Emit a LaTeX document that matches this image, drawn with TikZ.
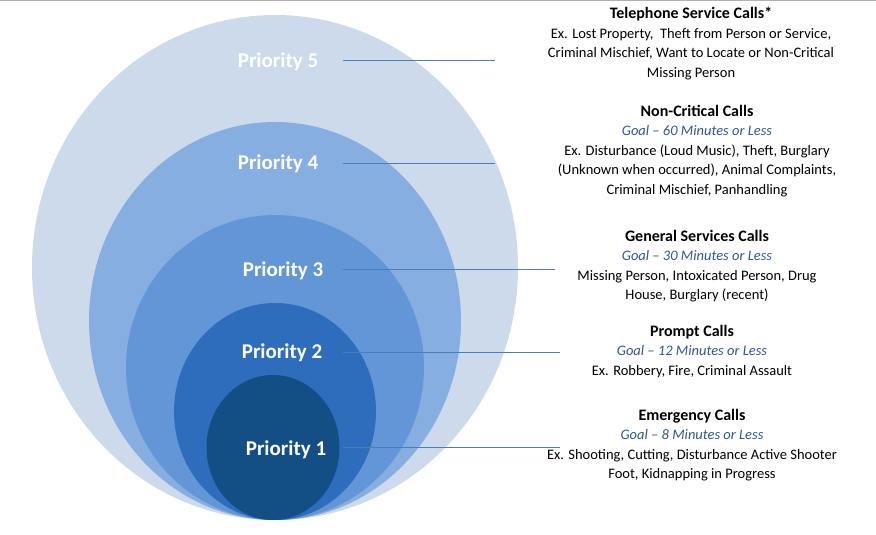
\documentclass[tikz,border=0pt]{standalone}
\usepackage{fontspec}
\setmainfont{Carlito}
\definecolor{cfive}{HTML}{CDDAEB}
\definecolor{cfour}{HTML}{86AEE0}
\definecolor{cthree}{HTML}{6396D6}
\definecolor{ctwo}{HTML}{2E6DBB}
\definecolor{cone}{HTML}{134E85}
\definecolor{lnc}{HTML}{4A7EBB}
\definecolor{goalc}{HTML}{2F5597}
\begin{document}
\begin{tikzpicture}[x=1pt,y=-1pt,
  plabel/.style={text=white,font=\fontsize{21}{24}\selectfont\bfseries,inner sep=0pt},
  desc/.style={align=center,font=\fontsize{14.5}{19.5}\selectfont,inner sep=0pt,anchor=north},
  lead/.style={draw=lnc,line width=0.9pt}]
\useasboundingbox (0,0) rectangle (876,535);
\draw[gray!60,line width=1.5pt] (0,0.5) -- (876,0.5);
\fill[cfive] (275,267.5) ellipse [x radius=243,y radius=252.5];
\fill[cfour] (275,321) ellipse [x radius=186,y radius=199];
\fill[cthree] (275,367.5) ellipse [x radius=149,y radius=152.5];
\fill[ctwo] (275,411.5) ellipse [x radius=101,y radius=108.5];
\fill[cone] (273,447.5) ellipse [x radius=66.5,y radius=72.5];
\node[plabel] (p5) at (278,62) {Priority 5};
\node[plabel] (p4) at (278,164) {Priority 4};
\node[plabel] (p3) at (283,271) {Priority 3};
\node[plabel] (p2) at (282,353) {Priority 2};
\node[plabel] (p1) at (286,450) {Priority 1};
\coordinate (e5) at (495,60);
\coordinate (e4) at (495,163);
\coordinate (e3) at (555,269);
\coordinate (e2) at (560,352);
\coordinate (e1) at (560,447);
\draw[lead] (343,60) -- (e5);
\draw[lead] (343,163) -- (e4);
\draw[lead] (343,269) -- (e3);
\draw[lead] (343,352) -- (e2);
\draw[lead] (343,447) -- (e1);
\node[desc] (d5) at (691,7) {{\fontsize{16}{19.5}\selectfont\bfseries Telephone Service Calls*}\\Ex. Lost Property,\ \ Theft from Person or Service,\\Criminal Mischief, Want to Locate or Non-Critical\\Missing Person};
\node[desc] (d4) at (697,105) {{\fontsize{16}{19.5}\selectfont\bfseries Non-Critical Calls}\\\textcolor{goalc}{\itshape Goal -- 60 Minutes or Less}\\Ex. Disturbance (Loud Music), Theft, Burglary\\(Unknown when occurred), Animal Complaints,\\Criminal Mischief, Panhandling};
\node[desc] (d3) at (697,230) {{\fontsize{16}{19.5}\selectfont\bfseries General Services Calls}\\\textcolor{goalc}{\itshape Goal -- 30 Minutes or Less}\\Missing Person, Intoxicated Person, Drug\\House, Burglary (recent)};
\node[desc] (d2) at (692,325) {{\fontsize{16}{19.5}\selectfont\bfseries Prompt Calls}\\\textcolor{goalc}{\itshape Goal -- 12 Minutes or Less}\\Ex. Robbery, Fire, Criminal Assault};
\node[desc] (d1) at (692,409) {{\fontsize{16}{19.5}\selectfont\bfseries Emergency Calls}\\\textcolor{goalc}{\itshape Goal -- 8 Minutes or Less}\\Ex. Shooting, Cutting, Disturbance Active Shooter\\Foot, Kidnapping in Progress};
\end{tikzpicture}
\end{document}
